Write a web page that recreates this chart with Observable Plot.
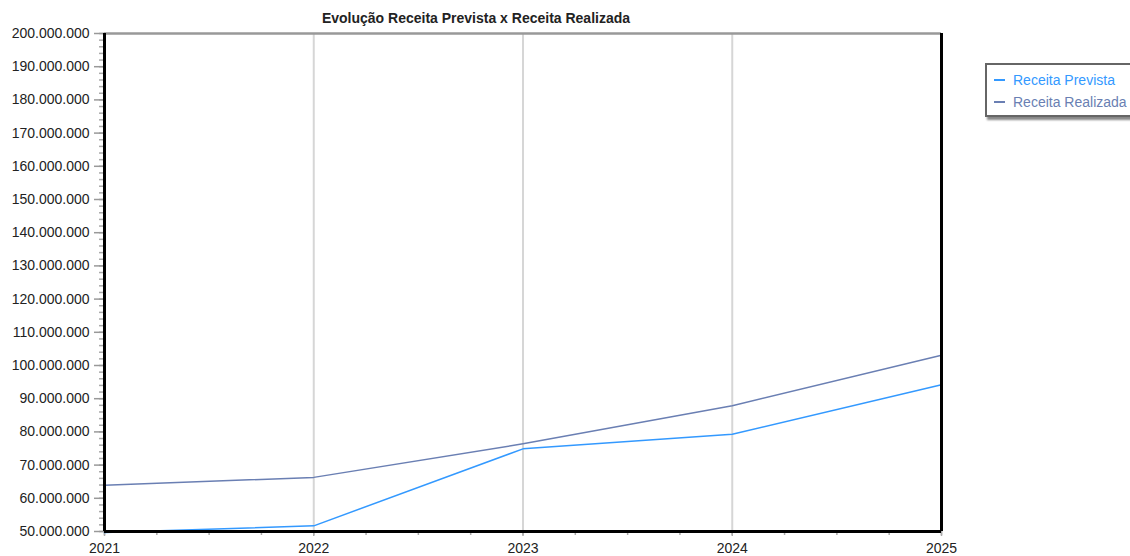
<!DOCTYPE html>
<html>
<head>
<meta charset="utf-8">
<script src="https://cdn.jsdelivr.net/npm/d3@7"></script>
<script src="https://cdn.jsdelivr.net/npm/@observablehq/plot@0.6"></script>
<style>
  html, body { margin: 0; padding: 0; background: #fff; }
  #wrap { position: relative; width: 1130px; height: 556px; overflow: hidden; font-family: Arial, "Liberation Sans", sans-serif; }
  #title { position: absolute; left: 0; width: 952px; top: 10px; text-align: center; font-weight: bold; font-size: 14px; color: #222; }
  #legend { position: absolute; left: 985px; top: 63px; width: 160px; height: 50px; border: 2px solid #666; box-shadow: 2px 3px 2px #888; background: #fff; font-size: 14px; }
  .row { position: absolute; left: 7px; display: flex; align-items: center; white-space: nowrap; }
  .sw { width: 11px; height: 2px; margin-right: 8px; }
  svg { display: block; }
</style>
</head>
<body>
<div id="wrap">
  <div id="chart"></div>
  <div id="title">Evolução Receita Prevista x Receita Realizada</div>
  <div id="legend"></div>
</div>
<script>
const years = [2021, 2022, 2023, 2024, 2025];
const receitaPrevista = [49700000, 51700000, 74900000, 79300000, 94200000];
const receitaRealizada = [63900000, 66300000, 76400000, 87900000, 103100000];
const seriesNames = ["Receita Prevista", "Receita Realizada"];
const seriesColors = ["#3399ff", "#6a7fb3"];
const yTicks = d3.range(50000000, 200000001, 10000000);
const yMinorTicks = d3.range(50000000, 200000001, 2000000);
const xMinorTicks = d3.range(2021, 2025.01, 0.25);

const rows = [];
years.forEach((y, i) => {
  rows.push({year: y, value: receitaPrevista[i], serie: seriesNames[0]});
  rows.push({year: y, value: receitaRealizada[i], serie: seriesNames[1]});
});

const fmt = d3.formatLocale({decimal: ",", thousands: ".", grouping: [3], currency: ["", ""]}).format(",d");

const chart = Plot.plot({
  width: 1130,
  height: 556,
  marginLeft: 104,
  marginRight: 189,
  marginTop: 33,
  marginBottom: 25,
  style: {fontFamily: "Arial, 'Liberation Sans', sans-serif", fontSize: "14px", color: "#222", background: "#fff"},
  x: {domain: [2021, 2025], type: "linear"},
  y: {domain: [50000000, 200000000]},
  color: {domain: seriesNames, range: seriesColors},
  marks: [
    Plot.ruleX(years.slice(1, -1), {stroke: "#d6d6d6", strokeWidth: 2}),
    Plot.axisY({ticks: yMinorTicks, tickSize: 5, tickFormat: () => "", stroke: "#aaa", strokeWidth: 1.5, label: null}),
    Plot.axisY({ticks: yTicks, tickSize: 10, tickPadding: 5, tickFormat: fmt, stroke: "#999", strokeWidth: 1.5, label: null, fill: "#222"}),
    Plot.axisX({ticks: xMinorTicks, tickSize: 4, tickFormat: () => "", stroke: "#aaa", strokeWidth: 1.5, label: null}),
    Plot.axisX({ticks: years, tickSize: 5, tickPadding: 7, tickFormat: d => String(d), stroke: "#aaa", strokeWidth: 1.5, label: null, fill: "#222"}),
    Plot.line(rows, {x: "year", y: "value", stroke: "serie", strokeWidth: 1.5}),
    Plot.ruleY([200000000], {stroke: "#999", strokeWidth: 2.5}),
    Plot.ruleX([2021, 2025], {stroke: "#000", strokeWidth: 3}),
    Plot.ruleY([50000000], {stroke: "#000", strokeWidth: 3})
  ]
});
document.getElementById("chart").appendChild(chart);

const leg = document.getElementById("legend");
seriesNames.forEach((n, i) => {
  const r = document.createElement("div");
  r.className = "row";
  r.style.top = (7 + i * 22) + "px";
  r.style.color = seriesColors[i];
  const sw = document.createElement("span");
  sw.className = "sw";
  sw.style.background = seriesColors[i];
  r.appendChild(sw);
  r.appendChild(document.createTextNode(n));
  leg.appendChild(r);
});
</script>
</body>
</html>
